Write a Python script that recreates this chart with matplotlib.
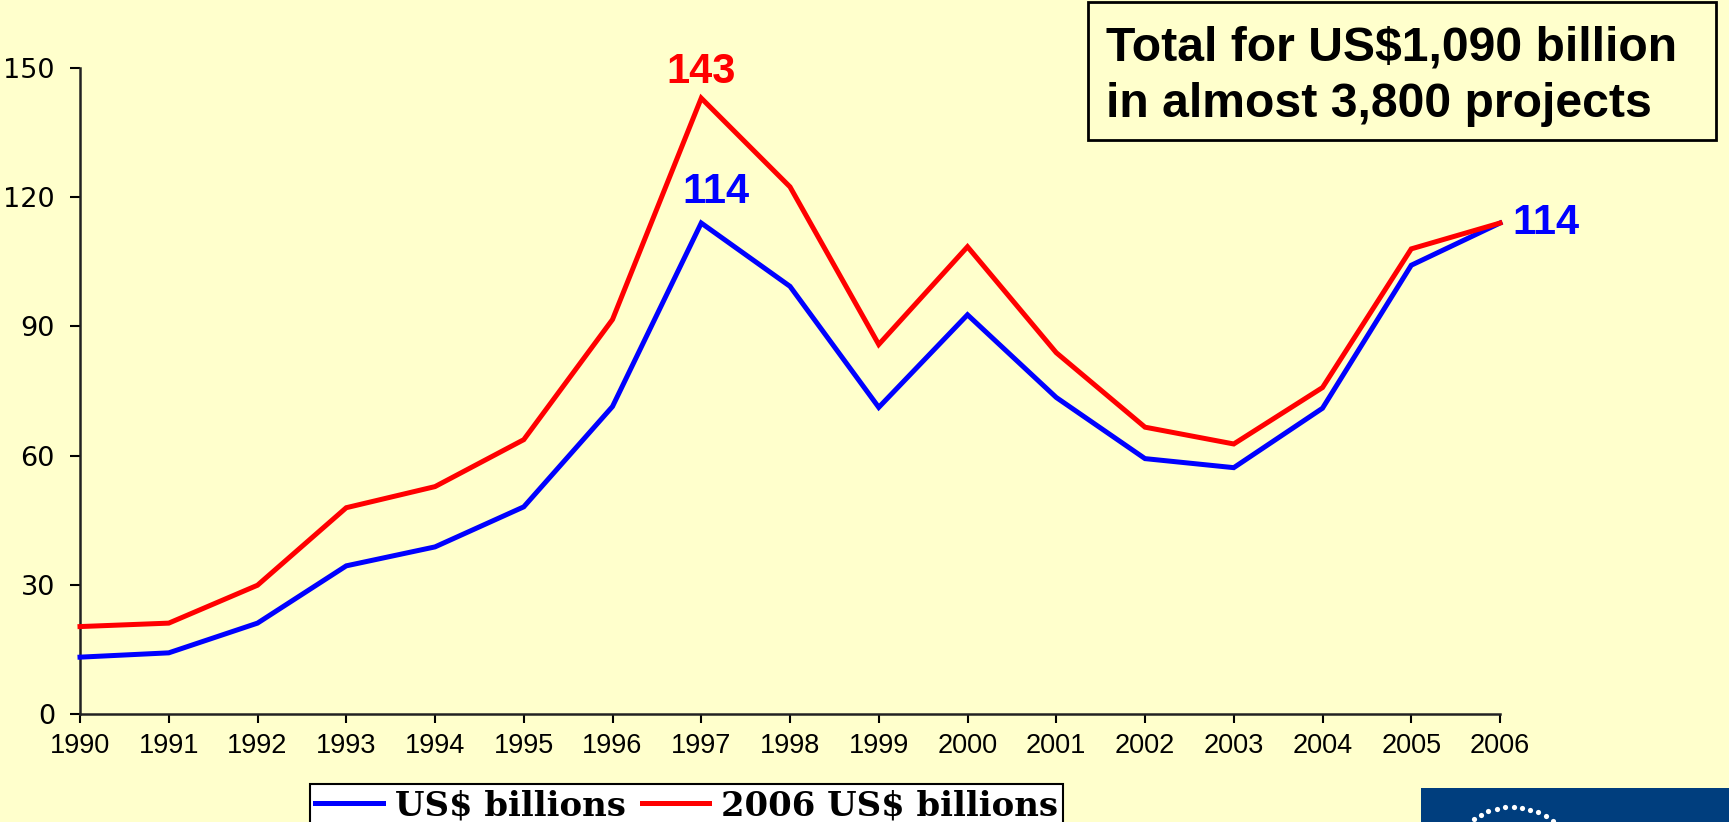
import numpy as np
import matplotlib
matplotlib.use("Agg")
import matplotlib.pyplot as plt
from matplotlib.patches import Rectangle

# data
years = list(range(1990, 2007))
us_billions = [13.2, 14.2, 21.1, 34.4, 38.8, 48.1, 71.4, 114.0, 99.3, 71.2,
               92.7, 73.5, 59.3, 57.2, 71.0, 104.2, 114.0]
us_2006_billions = [20.3, 21.1, 29.9, 47.9, 52.8, 63.7, 91.6, 143.0, 122.4, 85.8,
                    108.5, 83.9, 66.6, 62.7, 75.8, 108.0, 114.0]
y_ticks = [0, 30, 60, 90, 120, 150]

BG = '#FFFFCC'
W, H = 1729, 822

fig = plt.figure(figsize=(W / 100, H / 100), dpi=100, facecolor=BG)
ax = fig.add_axes([80 / W, 1 - 714 / H, 1420 / W, 646 / H], facecolor=BG)

ax.plot(years, us_billions, color='#0000FF', lw=3.6, label='US$ billions',
        solid_joinstyle='miter', clip_on=False, zorder=3)
ax.plot(years, us_2006_billions, color='#FF0000', lw=3.6, label='2006 US$ billions',
        solid_joinstyle='miter', clip_on=False, zorder=3)

ax.set_xlim(years[0], years[-1])
ax.set_ylim(0, 150)
ax.set_xticks(years)
ax.set_xticklabels([str(y) for y in years], fontsize=19.5, family='Liberation Sans')
ax.set_yticks(y_ticks)
ax.set_yticklabels([str(v) for v in y_ticks], fontsize=19.5, family='DejaVu Sans')
ax.tick_params(axis='x', direction='out', length=6.5, width=1.5, pad=7, colors='black')
ax.tick_params(axis='y', direction='out', length=7, width=1.5, pad=11, colors='black')
for s in ['top', 'right']:
    ax.spines[s].set_visible(False)
for s in ['left', 'bottom']:
    ax.spines[s].set_linewidth(1.8)
    ax.spines[s].set_color('#222222')

# value labels
i97 = years.index(1997)
ax.annotate(f'{us_2006_billions[i97]:.0f}', (years[i97], us_2006_billions[i97]),
            xytext=(0, 6), textcoords='offset pixels', ha='center', va='bottom',
            fontsize=30, fontweight='bold', color='#FF0000', family='Liberation Sans')
ax.annotate(f'{us_billions[i97]:.0f}', (years[i97], us_billions[i97]),
            xytext=(15, 11), textcoords='offset pixels', ha='center', va='bottom',
            fontsize=30, fontweight='bold', color='#0000FF', family='Liberation Sans')
ax.annotate(f'{us_billions[-1]:.0f}', (years[-1], us_billions[-1]),
            xytext=(12, 0), textcoords='offset pixels', ha='left', va='center',
            fontsize=30, fontweight='bold', color='#0000FF', family='Liberation Sans')

# total box top right
fig.add_artist(Rectangle((1088 / W, 1 - 140 / H), 628 / W, 138 / H, transform=fig.transFigure,
                         facecolor=BG, edgecolor='black', lw=2))
fig.text(1106 / W, 1 - 60 / H, 'Total for US$1,090 billion', ha='left', va='baseline',
         fontsize=34.7, fontweight='bold', family='Liberation Sans')
fig.text(1106 / W, 1 - 117 / H, 'in almost 3,800 projects', ha='left', va='baseline',
         fontsize=34.7, fontweight='bold', family='Liberation Sans')

# legend at the bottom
leg = ax.legend(loc='upper left', bbox_to_anchor=(310 / W, 1 - 784 / H),
                bbox_transform=fig.transFigure, ncol=2, frameon=True, fancybox=False,
                borderaxespad=0, handlelength=2.0, handletextpad=0.35, columnspacing=0.47,
                borderpad=0.15, prop={'family': 'DejaVu Serif', 'weight': 'bold', 'size': 24.4})
leg.get_frame().set_edgecolor('black')
leg.get_frame().set_linewidth(1.5)
leg.get_frame().set_facecolor('white')
leg.get_frame().set_alpha(1)

# logo corner (decoration)
lax = fig.add_axes([1421 / W, 0, 308 / W, 34 / H])
lax.set_facecolor('#003E7E')
lax.set_xlim(1421, 1729)
lax.set_ylim(822, 788)
lax.set_xticks([])
lax.set_yticks([])
for s in lax.spines.values():
    s.set_visible(False)
ang = np.arange(0, 2 * np.pi, 0.129)
lax.scatter(1512 + 66 * np.cos(ang), 873 - 66 * np.sin(ang), s=14, color='white', lw=0)

fig.savefig('out.png', dpi=100, facecolor=BG)
